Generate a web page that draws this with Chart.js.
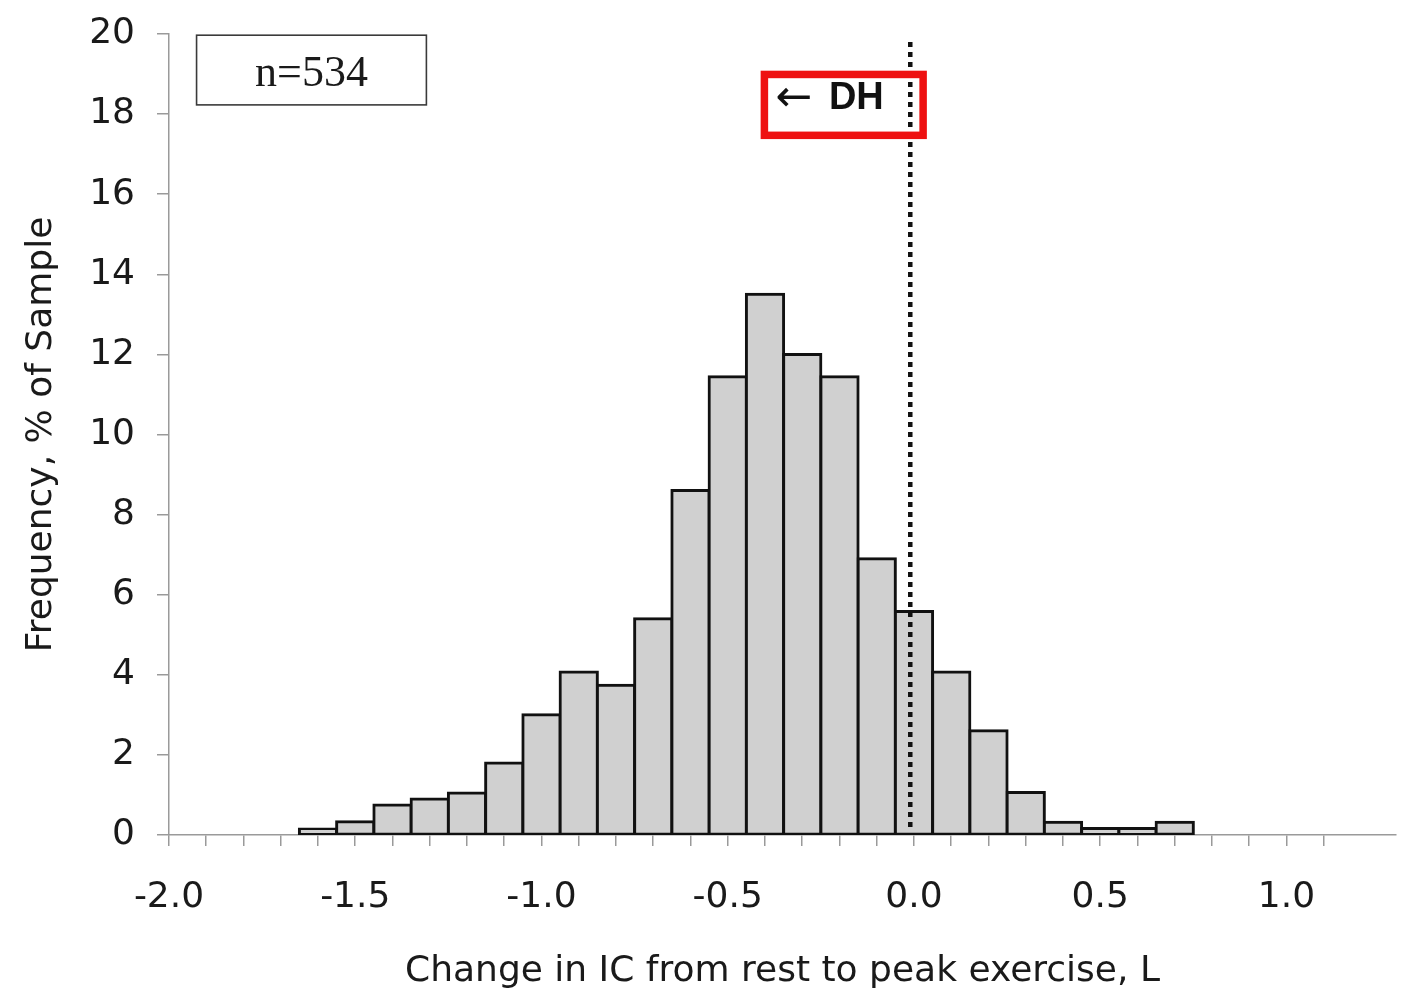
<!DOCTYPE html>
<html><head><meta charset="utf-8">
<script src="https://cdn.jsdelivr.net/npm/chart.js@4.4.1/dist/chart.umd.min.js"></script>
<style>html,body{margin:0;padding:0;background:#fff;overflow:hidden}#wrap{width:1408px;height:1002px;position:relative}</style>
</head><body><div id="wrap"><canvas id="c" width="1408" height="1002"></canvas></div>
<script>
// ---- data ----
const BIN_CENTERS = [-1.6,-1.5,-1.4,-1.3,-1.2,-1.1,-1.0,-0.9,-0.8,-0.7,-0.6,-0.5,-0.4,-0.3,-0.2,-0.1,0.0,0.1,0.2,0.3,0.4,0.5,0.6,0.7];
const FREQUENCY   = [0.15,0.33,0.75,0.9,1.05,1.8,3.0,4.07,3.74,5.4,8.6,11.44,13.5,12.0,11.44,6.9,5.58,4.07,2.6,1.06,0.32,0.16,0.16,0.32];
const X_TICK_LABELS = ['-2.0','-1.5','-1.0','-0.5','0.0','0.5','1.0'];
const Y_TICK_VALUES = [0,2,4,6,8,10,12,14,16,18,20];
const X_TITLE = 'Change in IC from rest to peak exercise, L';
const Y_TITLE = 'Frequency, % of Sample';
const SAMPLE_LABEL = 'n=534';
const DH_ARROW = '\u2190';
const DH_TEXT = 'DH';
const DH_THRESHOLD = -0.01;

const FONT = '"DejaVu Sans", "Liberation Sans", Arial, sans-serif';
const AXIS_GRAY = '#9a9a9a';

const annotations = {
  id: 'annotations',
  afterDatasetsDraw(chart) {
    const {ctx, scales: {x, y}} = chart;
    ctx.save();
    // n=534 box
    const nx0 = x.getPixelForValue(-1.926), nx1 = x.getPixelForValue(-1.309);
    const ny0 = y.getPixelForValue(19.97), ny1 = y.getPixelForValue(18.23);
    ctx.strokeStyle = '#3a3a3a';
    ctx.lineWidth = 1.6;
    ctx.strokeRect(nx0, ny0, nx1 - nx0, ny1 - ny0);
    ctx.fillStyle = '#1a1a1a';
    ctx.font = '44px "Liberation Serif", "Times New Roman", serif';
    ctx.textAlign = 'center';
    ctx.textBaseline = 'alphabetic';
    ctx.fillText(SAMPLE_LABEL, (nx0 + nx1) / 2, (ny0 + ny1) / 2 + 16);

    // dotted DH threshold line
    const dx = x.getPixelForValue(DH_THRESHOLD);
    ctx.strokeStyle = '#111';
    ctx.lineWidth = 4.5;
    ctx.setLineDash([5, 5]);
    ctx.beginPath();
    ctx.moveTo(dx, y.getPixelForValue(19.8));
    ctx.lineTo(dx, y.getPixelForValue(0.15));
    ctx.stroke();
    ctx.setLineDash([]);

    // red DH box (drawn over the dotted line)
    const rx0 = x.getPixelForValue(-0.4016), rx1 = x.getPixelForValue(0.0245);
    const ry0 = y.getPixelForValue(18.99), ry1 = y.getPixelForValue(17.47);
    ctx.strokeStyle = '#ee1111';
    ctx.lineWidth = 7.5;
    ctx.strokeRect(rx0, ry0, rx1 - rx0, ry1 - ry0);

    // label text
    const base = y.getPixelForValue(18.13);
    ctx.fillStyle = '#111';
    ctx.textAlign = 'left';
    ctx.font = '44px "DejaVu Sans", sans-serif';
    ctx.fillText(DH_ARROW, x.getPixelForValue(-0.3715), base + 2);
    ctx.font = 'bold 38px "Liberation Sans", Arial, sans-serif';
    ctx.fillText(DH_TEXT, x.getPixelForValue(-0.2285), base);
    ctx.restore();
  }
};

new Chart(document.getElementById('c'), {
  type: 'bar',
  data: {
    datasets: [{
      data: BIN_CENTERS.map((c, i) => ({x: c, y: FREQUENCY[i]})),
      backgroundColor: '#d0d0d0',
      borderColor: '#111',
      borderWidth: 3,
      inflateAmount: 1.5,
      borderSkipped: false,
      barPercentage: 1,
      categoryPercentage: 1
    }]
  },
  options: {
    responsive: false,
    animation: false,
    devicePixelRatio: 1,
    layout: {padding: {top: 34, right: 12, left: 0, bottom: 0}},
    plugins: {legend: {display: false}, tooltip: {enabled: false}},
    scales: {
      x: {
        type: 'linear',
        min: -2.0,
        max: 1.294,
        offset: false,
        grid: {offset: false, drawOnChartArea: false, drawTicks: true, tickLength: 11, color: AXIS_GRAY, lineWidth: 1.5},
        border: {color: AXIS_GRAY, width: 1.5},
        ticks: {
          stepSize: 0.1,
          autoSkip: false,
          maxRotation: 0,
          padding: 30,
          color: '#1a1a1a',
          font: {family: FONT, size: 36},
          callback: (v) => {
            const lab = X_TICK_LABELS.find(l => Math.abs(parseFloat(l) - v) < 1e-6);
            return lab || '';
          }
        },
        afterBuildTicks: (s) => {
          s.ticks = s.ticks.filter(t => Math.abs(t.value * 10 - Math.round(t.value * 10)) < 1e-6 && t.value <= 1.2 + 1e-6);
        },
        afterFit: (s) => { s.height = 167; s.paddingLeft = 0; s.paddingRight = 0; },
        title: {display: true, text: X_TITLE, color: '#1a1a1a', font: {family: FONT, size: 36}, padding: {top: 0, bottom: 9}}
      },
      y: {
        min: 0,
        max: 20,
        grid: {drawOnChartArea: false, drawTicks: true, tickLength: 12, color: AXIS_GRAY, lineWidth: 1.5},
        border: {color: AXIS_GRAY, width: 1.5},
        ticks: {padding: 22, color: '#1a1a1a', font: {family: FONT, size: 36}},
        afterBuildTicks: (s) => { s.ticks = Y_TICK_VALUES.map(v => ({value: v})); },
        afterFit: (s) => { s.width = 169; s.paddingTop = 0; s.paddingBottom = 0; },
        title: {display: true, text: Y_TITLE, color: '#1a1a1a', font: {family: FONT, size: 36}, padding: {top: 20, bottom: 0}}
      }
    }
  },
  plugins: [annotations]
});
</script></body></html>
